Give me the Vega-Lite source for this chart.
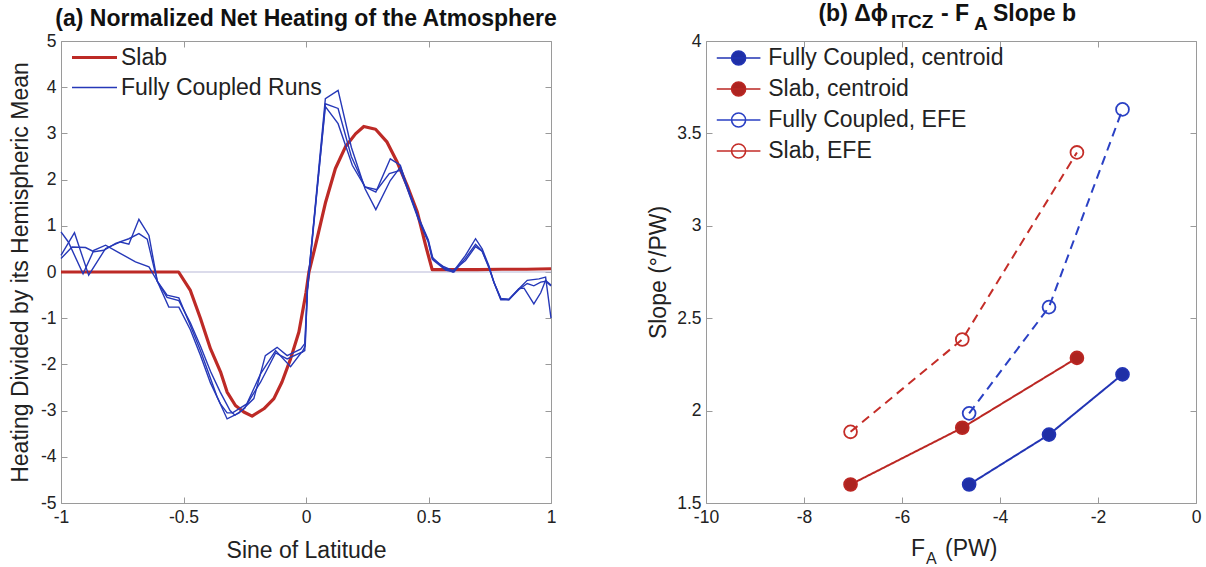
{
  "$schema": "https://vega.github.io/schema/vega-lite/v6.json",
  "background": "white",
  "padding": {"left": 9, "top": 3, "right": 4, "bottom": 4},
  "bounds": "flush",
  "spacing": 155,
  "resolve": {"scale": {"x": "independent", "y": "independent", "color": "independent", "fill": "independent", "stroke": "independent"}, "legend": {"color": "independent", "fill": "independent", "stroke": "independent"}},
  "config": {
    "font": "Liberation Sans",
    "view": {"stroke": null},
    "axis": {
      "labelFont": "Liberation Sans", "labelFontSize": 17.5, "labelColor": "#222", "labelFlush": false,
      "titleFont": "Liberation Sans", "titleFontSize": 23, "titleFontWeight": "normal", "titleColor": "#222",
      "domainColor": "#9a9a9a", "tickColor": "#9a9a9a", "tickSize": -6, "labelPadding": 11,
      "grid": false, "domainWidth": 1, "tickWidth": 1
    },
    "legend": {"labelFont": "Liberation Sans", "labelFontSize": 23, "labelColor": "#222", "labelLimit": 500}
  },
  "datasets": {
    "slab": [
      {"model": "Slab", "x": -1.0, "y": 0.0}, {"model": "Slab", "x": -0.9, "y": 0.0}, {"model": "Slab", "x": -0.8, "y": 0.0},
      {"model": "Slab", "x": -0.7, "y": 0.0}, {"model": "Slab", "x": -0.6, "y": 0.0}, {"model": "Slab", "x": -0.52, "y": 0.0},
      {"model": "Slab", "x": -0.472, "y": -0.4}, {"model": "Slab", "x": -0.431, "y": -1.0}, {"model": "Slab", "x": -0.39, "y": -1.66},
      {"model": "Slab", "x": -0.349, "y": -2.16}, {"model": "Slab", "x": -0.322, "y": -2.6}, {"model": "Slab", "x": -0.288, "y": -2.89},
      {"model": "Slab", "x": -0.254, "y": -3.03}, {"model": "Slab", "x": -0.22, "y": -3.12}, {"model": "Slab", "x": -0.172, "y": -2.96},
      {"model": "Slab", "x": -0.131, "y": -2.74}, {"model": "Slab", "x": -0.098, "y": -2.38}, {"model": "Slab", "x": -0.063, "y": -1.88},
      {"model": "Slab", "x": -0.029, "y": -1.3}, {"model": "Slab", "x": 0.0, "y": -0.45}, {"model": "Slab", "x": 0.012, "y": 0.0},
      {"model": "Slab", "x": 0.039, "y": 0.58}, {"model": "Slab", "x": 0.08, "y": 1.51}, {"model": "Slab", "x": 0.12, "y": 2.24},
      {"model": "Slab", "x": 0.161, "y": 2.71}, {"model": "Slab", "x": 0.202, "y": 2.99}, {"model": "Slab", "x": 0.236, "y": 3.15},
      {"model": "Slab", "x": 0.284, "y": 3.09}, {"model": "Slab", "x": 0.331, "y": 2.81}, {"model": "Slab", "x": 0.372, "y": 2.38},
      {"model": "Slab", "x": 0.413, "y": 1.87}, {"model": "Slab", "x": 0.454, "y": 1.3}, {"model": "Slab", "x": 0.488, "y": 0.58},
      {"model": "Slab", "x": 0.515, "y": 0.05}, {"model": "Slab", "x": 0.6, "y": 0.05}, {"model": "Slab", "x": 0.7, "y": 0.05},
      {"model": "Slab", "x": 0.8, "y": 0.06}, {"model": "Slab", "x": 0.9, "y": 0.06}, {"model": "Slab", "x": 1.0, "y": 0.07}
    ],
    "runs": [
      {"model": "Fully Coupled Runs", "run": 1, "x": -1.0, "y": 0.87}, {"model": "Fully Coupled Runs", "run": 1, "x": -0.97, "y": 0.65},
      {"model": "Fully Coupled Runs", "run": 1, "x": -0.91, "y": -0.04}, {"model": "Fully Coupled Runs", "run": 1, "x": -0.866, "y": 0.47},
      {"model": "Fully Coupled Runs", "run": 1, "x": -0.818, "y": 0.58}, {"model": "Fully Coupled Runs", "run": 1, "x": -0.764, "y": 0.42},
      {"model": "Fully Coupled Runs", "run": 1, "x": -0.696, "y": 0.22}, {"model": "Fully Coupled Runs", "run": 1, "x": -0.641, "y": 0.11},
      {"model": "Fully Coupled Runs", "run": 1, "x": -0.607, "y": -0.2}, {"model": "Fully Coupled Runs", "run": 1, "x": -0.567, "y": -0.5},
      {"model": "Fully Coupled Runs", "run": 1, "x": -0.519, "y": -0.56}, {"model": "Fully Coupled Runs", "run": 1, "x": -0.472, "y": -1.16},
      {"model": "Fully Coupled Runs", "run": 1, "x": -0.431, "y": -1.7}, {"model": "Fully Coupled Runs", "run": 1, "x": -0.39, "y": -2.3},
      {"model": "Fully Coupled Runs", "run": 1, "x": -0.363, "y": -2.7}, {"model": "Fully Coupled Runs", "run": 1, "x": -0.322, "y": -3.18},
      {"model": "Fully Coupled Runs", "run": 1, "x": -0.273, "y": -3.05}, {"model": "Fully Coupled Runs", "run": 1, "x": -0.213, "y": -2.74},
      {"model": "Fully Coupled Runs", "run": 1, "x": -0.166, "y": -1.81}, {"model": "Fully Coupled Runs", "run": 1, "x": -0.118, "y": -1.63},
      {"model": "Fully Coupled Runs", "run": 1, "x": -0.077, "y": -1.81}, {"model": "Fully Coupled Runs", "run": 1, "x": -0.022, "y": -1.67},
      {"model": "Fully Coupled Runs", "run": 1, "x": -0.005, "y": -1.55}, {"model": "Fully Coupled Runs", "run": 1, "x": 0.006, "y": -0.35},
      {"model": "Fully Coupled Runs", "run": 1, "x": 0.079, "y": 3.75}, {"model": "Fully Coupled Runs", "run": 1, "x": 0.131, "y": 3.93},
      {"model": "Fully Coupled Runs", "run": 1, "x": 0.185, "y": 2.7}, {"model": "Fully Coupled Runs", "run": 1, "x": 0.241, "y": 1.8},
      {"model": "Fully Coupled Runs", "run": 1, "x": 0.285, "y": 1.35}, {"model": "Fully Coupled Runs", "run": 1, "x": 0.344, "y": 1.98},
      {"model": "Fully Coupled Runs", "run": 1, "x": 0.385, "y": 2.27}, {"model": "Fully Coupled Runs", "run": 1, "x": 0.41, "y": 1.9},
      {"model": "Fully Coupled Runs", "run": 1, "x": 0.458, "y": 1.18}, {"model": "Fully Coupled Runs", "run": 1, "x": 0.499, "y": 0.67},
      {"model": "Fully Coupled Runs", "run": 1, "x": 0.515, "y": 0.32}, {"model": "Fully Coupled Runs", "run": 1, "x": 0.56, "y": 0.1},
      {"model": "Fully Coupled Runs", "run": 1, "x": 0.6, "y": 0.0}, {"model": "Fully Coupled Runs", "run": 1, "x": 0.651, "y": 0.36},
      {"model": "Fully Coupled Runs", "run": 1, "x": 0.692, "y": 0.72}, {"model": "Fully Coupled Runs", "run": 1, "x": 0.719, "y": 0.5},
      {"model": "Fully Coupled Runs", "run": 1, "x": 0.746, "y": 0.14}, {"model": "Fully Coupled Runs", "run": 1, "x": 0.767, "y": -0.22},
      {"model": "Fully Coupled Runs", "run": 1, "x": 0.795, "y": -0.58}, {"model": "Fully Coupled Runs", "run": 1, "x": 0.828, "y": -0.59},
      {"model": "Fully Coupled Runs", "run": 1, "x": 0.869, "y": -0.36}, {"model": "Fully Coupled Runs", "run": 1, "x": 0.903, "y": -0.18},
      {"model": "Fully Coupled Runs", "run": 1, "x": 0.951, "y": -0.15}, {"model": "Fully Coupled Runs", "run": 1, "x": 0.978, "y": -0.11},
      {"model": "Fully Coupled Runs", "run": 1, "x": 1.0, "y": -1.0},

      {"model": "Fully Coupled Runs", "run": 2, "x": -1.0, "y": 0.36}, {"model": "Fully Coupled Runs", "run": 2, "x": -0.945, "y": 0.85},
      {"model": "Fully Coupled Runs", "run": 2, "x": -0.887, "y": -0.07}, {"model": "Fully Coupled Runs", "run": 2, "x": -0.818, "y": 0.51},
      {"model": "Fully Coupled Runs", "run": 2, "x": -0.757, "y": 0.65}, {"model": "Fully Coupled Runs", "run": 2, "x": -0.723, "y": 0.6},
      {"model": "Fully Coupled Runs", "run": 2, "x": -0.682, "y": 1.14}, {"model": "Fully Coupled Runs", "run": 2, "x": -0.641, "y": 0.79},
      {"model": "Fully Coupled Runs", "run": 2, "x": -0.607, "y": -0.2}, {"model": "Fully Coupled Runs", "run": 2, "x": -0.567, "y": -0.55},
      {"model": "Fully Coupled Runs", "run": 2, "x": -0.519, "y": -0.62}, {"model": "Fully Coupled Runs", "run": 2, "x": -0.472, "y": -1.1},
      {"model": "Fully Coupled Runs", "run": 2, "x": -0.431, "y": -1.6}, {"model": "Fully Coupled Runs", "run": 2, "x": -0.39, "y": -2.15},
      {"model": "Fully Coupled Runs", "run": 2, "x": -0.35, "y": -2.6}, {"model": "Fully Coupled Runs", "run": 2, "x": -0.31, "y": -3.0},
      {"model": "Fully Coupled Runs", "run": 2, "x": -0.29, "y": -3.1}, {"model": "Fully Coupled Runs", "run": 2, "x": -0.25, "y": -2.95},
      {"model": "Fully Coupled Runs", "run": 2, "x": -0.185, "y": -2.2}, {"model": "Fully Coupled Runs", "run": 2, "x": -0.124, "y": -1.7},
      {"model": "Fully Coupled Runs", "run": 2, "x": -0.063, "y": -2.05}, {"model": "Fully Coupled Runs", "run": 2, "x": -0.02, "y": -1.75},
      {"model": "Fully Coupled Runs", "run": 2, "x": -0.005, "y": -1.7}, {"model": "Fully Coupled Runs", "run": 2, "x": 0.006, "y": -0.4},
      {"model": "Fully Coupled Runs", "run": 2, "x": 0.079, "y": 3.64}, {"model": "Fully Coupled Runs", "run": 2, "x": 0.131, "y": 3.54},
      {"model": "Fully Coupled Runs", "run": 2, "x": 0.185, "y": 2.5}, {"model": "Fully Coupled Runs", "run": 2, "x": 0.241, "y": 1.84},
      {"model": "Fully Coupled Runs", "run": 2, "x": 0.285, "y": 1.73}, {"model": "Fully Coupled Runs", "run": 2, "x": 0.344, "y": 2.45},
      {"model": "Fully Coupled Runs", "run": 2, "x": 0.385, "y": 2.31}, {"model": "Fully Coupled Runs", "run": 2, "x": 0.41, "y": 1.9},
      {"model": "Fully Coupled Runs", "run": 2, "x": 0.458, "y": 1.2}, {"model": "Fully Coupled Runs", "run": 2, "x": 0.499, "y": 0.7},
      {"model": "Fully Coupled Runs", "run": 2, "x": 0.52, "y": 0.25}, {"model": "Fully Coupled Runs", "run": 2, "x": 0.57, "y": 0.04},
      {"model": "Fully Coupled Runs", "run": 2, "x": 0.604, "y": 0.0}, {"model": "Fully Coupled Runs", "run": 2, "x": 0.651, "y": 0.3},
      {"model": "Fully Coupled Runs", "run": 2, "x": 0.692, "y": 0.6}, {"model": "Fully Coupled Runs", "run": 2, "x": 0.719, "y": 0.45},
      {"model": "Fully Coupled Runs", "run": 2, "x": 0.746, "y": 0.1}, {"model": "Fully Coupled Runs", "run": 2, "x": 0.767, "y": -0.22},
      {"model": "Fully Coupled Runs", "run": 2, "x": 0.795, "y": -0.57}, {"model": "Fully Coupled Runs", "run": 2, "x": 0.828, "y": -0.6},
      {"model": "Fully Coupled Runs", "run": 2, "x": 0.869, "y": -0.38}, {"model": "Fully Coupled Runs", "run": 2, "x": 0.903, "y": -0.25},
      {"model": "Fully Coupled Runs", "run": 2, "x": 0.93, "y": -0.3}, {"model": "Fully Coupled Runs", "run": 2, "x": 0.958, "y": -0.22},
      {"model": "Fully Coupled Runs", "run": 2, "x": 0.978, "y": -0.2}, {"model": "Fully Coupled Runs", "run": 2, "x": 1.0, "y": -0.3},

      {"model": "Fully Coupled Runs", "run": 3, "x": -1.0, "y": 0.29}, {"model": "Fully Coupled Runs", "run": 3, "x": -0.955, "y": 0.54},
      {"model": "Fully Coupled Runs", "run": 3, "x": -0.9, "y": 0.53}, {"model": "Fully Coupled Runs", "run": 3, "x": -0.866, "y": 0.44},
      {"model": "Fully Coupled Runs", "run": 3, "x": -0.825, "y": 0.47}, {"model": "Fully Coupled Runs", "run": 3, "x": -0.777, "y": 0.62},
      {"model": "Fully Coupled Runs", "run": 3, "x": -0.723, "y": 0.72}, {"model": "Fully Coupled Runs", "run": 3, "x": -0.682, "y": 0.83},
      {"model": "Fully Coupled Runs", "run": 3, "x": -0.648, "y": 0.71}, {"model": "Fully Coupled Runs", "run": 3, "x": -0.607, "y": -0.2},
      {"model": "Fully Coupled Runs", "run": 3, "x": -0.56, "y": -0.76}, {"model": "Fully Coupled Runs", "run": 3, "x": -0.519, "y": -0.76},
      {"model": "Fully Coupled Runs", "run": 3, "x": -0.472, "y": -1.25}, {"model": "Fully Coupled Runs", "run": 3, "x": -0.431, "y": -1.8},
      {"model": "Fully Coupled Runs", "run": 3, "x": -0.39, "y": -2.4}, {"model": "Fully Coupled Runs", "run": 3, "x": -0.35, "y": -2.85},
      {"model": "Fully Coupled Runs", "run": 3, "x": -0.322, "y": -3.05}, {"model": "Fully Coupled Runs", "run": 3, "x": -0.3, "y": -3.05},
      {"model": "Fully Coupled Runs", "run": 3, "x": -0.24, "y": -2.85}, {"model": "Fully Coupled Runs", "run": 3, "x": -0.185, "y": -2.38},
      {"model": "Fully Coupled Runs", "run": 3, "x": -0.124, "y": -1.75}, {"model": "Fully Coupled Runs", "run": 3, "x": -0.077, "y": -1.88},
      {"model": "Fully Coupled Runs", "run": 3, "x": -0.015, "y": -1.73}, {"model": "Fully Coupled Runs", "run": 3, "x": -0.003, "y": -1.6},
      {"model": "Fully Coupled Runs", "run": 3, "x": 0.006, "y": -0.3}, {"model": "Fully Coupled Runs", "run": 3, "x": 0.079, "y": 3.58},
      {"model": "Fully Coupled Runs", "run": 3, "x": 0.131, "y": 3.21}, {"model": "Fully Coupled Runs", "run": 3, "x": 0.189, "y": 2.31},
      {"model": "Fully Coupled Runs", "run": 3, "x": 0.241, "y": 1.84}, {"model": "Fully Coupled Runs", "run": 3, "x": 0.29, "y": 1.78},
      {"model": "Fully Coupled Runs", "run": 3, "x": 0.34, "y": 2.13}, {"model": "Fully Coupled Runs", "run": 3, "x": 0.385, "y": 2.2},
      {"model": "Fully Coupled Runs", "run": 3, "x": 0.41, "y": 1.85}, {"model": "Fully Coupled Runs", "run": 3, "x": 0.458, "y": 1.15},
      {"model": "Fully Coupled Runs", "run": 3, "x": 0.499, "y": 0.65}, {"model": "Fully Coupled Runs", "run": 3, "x": 0.515, "y": 0.28},
      {"model": "Fully Coupled Runs", "run": 3, "x": 0.56, "y": 0.12}, {"model": "Fully Coupled Runs", "run": 3, "x": 0.6, "y": 0.03},
      {"model": "Fully Coupled Runs", "run": 3, "x": 0.651, "y": 0.25}, {"model": "Fully Coupled Runs", "run": 3, "x": 0.692, "y": 0.55},
      {"model": "Fully Coupled Runs", "run": 3, "x": 0.719, "y": 0.45}, {"model": "Fully Coupled Runs", "run": 3, "x": 0.746, "y": 0.12},
      {"model": "Fully Coupled Runs", "run": 3, "x": 0.767, "y": -0.22}, {"model": "Fully Coupled Runs", "run": 3, "x": 0.795, "y": -0.6},
      {"model": "Fully Coupled Runs", "run": 3, "x": 0.828, "y": -0.6}, {"model": "Fully Coupled Runs", "run": 3, "x": 0.869, "y": -0.36},
      {"model": "Fully Coupled Runs", "run": 3, "x": 0.89, "y": -0.35}, {"model": "Fully Coupled Runs", "run": 3, "x": 0.93, "y": -0.69},
      {"model": "Fully Coupled Runs", "run": 3, "x": 0.958, "y": -0.45}, {"model": "Fully Coupled Runs", "run": 3, "x": 0.978, "y": -0.18},
      {"model": "Fully Coupled Runs", "run": 3, "x": 1.0, "y": -0.28}
    ],
    "slopes": [
      {"series": "Fully Coupled, centroid", "fa": -4.63, "slope": 1.6},
      {"series": "Fully Coupled, centroid", "fa": -3.0, "slope": 1.87},
      {"series": "Fully Coupled, centroid", "fa": -1.5, "slope": 2.196},
      {"series": "Slab, centroid", "fa": -7.05, "slope": 1.6},
      {"series": "Slab, centroid", "fa": -4.77, "slope": 1.907},
      {"series": "Slab, centroid", "fa": -2.43, "slope": 2.285},
      {"series": "Fully Coupled, EFE", "fa": -4.63, "slope": 1.985},
      {"series": "Fully Coupled, EFE", "fa": -3.0, "slope": 2.56},
      {"series": "Fully Coupled, EFE", "fa": -1.5, "slope": 3.63},
      {"series": "Slab, EFE", "fa": -7.05, "slope": 1.885},
      {"series": "Slab, EFE", "fa": -4.77, "slope": 2.385},
      {"series": "Slab, EFE", "fa": -2.43, "slope": 3.397}
    ]
  },
  "hconcat": [
    {
      "width": 490,
      "height": 462,
      "title": {"text": "(a) Normalized Net Heating of the Atmosphere", "font": "Liberation Sans", "fontSize": 23, "fontWeight": "bold", "color": "#111", "anchor": "middle", "baseline": "alphabetic", "offset": -17},
      "resolve": {"axis": {"x": "independent", "y": "independent"}},
      "layer": [
        {
          "data": {"values": [{"level": 0}]},
          "mark": {"type": "rule", "color": "#b8b8d8", "strokeWidth": 1.2},
          "encoding": {
            "y": {"field": "level", "type": "quantitative", "scale": {"domain": [-5, 5], "nice": false, "zero": false}, "axis": null}
          }
        },
        {
          "data": {"name": "slab"},
          "mark": {"type": "line", "strokeWidth": 3.2, "strokeJoin": "round"},
          "encoding": {
            "x": {"field": "x", "type": "quantitative", "scale": {"domain": [-1, 1], "nice": false, "zero": false},
                  "axis": {"orient": "top", "labels": false, "title": null, "values": [-1, -0.5, 0, 0.5, 1]}},
            "y": {"field": "y", "type": "quantitative", "scale": {"domain": [-5, 5], "nice": false, "zero": false},
                  "axis": {"orient": "right", "labels": false, "title": null, "values": [-5, -4, -3, -2, -1, 0, 1, 2, 3, 4, 5]}},
            "color": {"field": "model", "type": "nominal",
                      "scale": {"domain": ["Slab", "Fully Coupled Runs"], "range": ["#bd2a26", "#2638b8"]},
                      "legend": {"orient": "none", "legendX": 22, "legendY": 5, "title": null, "symbolType": "stroke", "symbolSize": 2025, "rowPadding": 6, "labelOffset": 15, "labelFontSize": 23,
                                 "encode": {"symbols": {"update": {"strokeWidth": {"signal": "datum.value === 'Slab' ? 3 : 1.3"}}}}}}
          }
        },
        {
          "data": {"name": "runs"},
          "mark": {"type": "line", "strokeWidth": 1.4},
          "encoding": {
            "x": {"field": "x", "type": "quantitative", "scale": {"domain": [-1, 1], "nice": false, "zero": false},
                  "axis": {"orient": "bottom", "title": "Sine of Latitude", "values": [-1, -0.5, 0, 0.5, 1], "format": "~g", "labelExpr": "replace(datum.label, '\u2212', '-')", "titlePadding": 14}},
            "y": {"field": "y", "type": "quantitative", "scale": {"domain": [-5, 5], "nice": false, "zero": false},
                  "axis": {"orient": "left", "title": "Heating Divided by its Hemispheric Mean", "values": [-5, -4, -3, -2, -1, 0, 1, 2, 3, 4, 5], "format": "~g", "labelExpr": "replace(datum.label, '\u2212', '-')", "titlePadding": 8}},
            "color": {"field": "model", "type": "nominal",
                      "scale": {"domain": ["Slab", "Fully Coupled Runs"], "range": ["#bd2a26", "#2638b8"]},
                      "legend": {"orient": "none", "legendX": 22, "legendY": 5, "title": null, "symbolType": "stroke", "symbolSize": 2025, "rowPadding": 6, "labelOffset": 15, "labelFontSize": 23,
                                 "encode": {"symbols": {"update": {"strokeWidth": {"signal": "datum.value === 'Slab' ? 3 : 1.3"}}}}}},
            "detail": {"field": "run", "type": "nominal"}
          }
        }
      ]
    },
    {
      "width": 490,
      "height": 462,
      "resolve": {"axis": {"x": "independent", "y": "independent"}},
      "layer": [
        {
          "data": {"name": "slopes"},
          "mark": {"type": "line", "strokeWidth": 2},
          "encoding": {
            "x": {"field": "fa", "type": "quantitative", "scale": {"domain": [-10, 0], "nice": false, "zero": false},
                  "axis": {"orient": "bottom", "title": null, "values": [-10, -8, -6, -4, -2, 0], "labelExpr": "replace(datum.label, '\u2212', '-')"}},
            "y": {"field": "slope", "type": "quantitative", "scale": {"domain": [1.5, 4], "nice": false, "zero": false},
                  "axis": {"orient": "left", "title": "Slope (°/PW)", "values": [1.5, 2, 2.5, 3, 3.5, 4], "format": "~g", "titlePadding": 6}},
            "stroke": {"field": "series", "type": "nominal",
                       "scale": {"domain": ["Fully Coupled, centroid", "Slab, centroid", "Fully Coupled, EFE", "Slab, EFE"], "range": ["#2234b4", "#bb2723", "#2a40c4", "#c42d28"]},
                       "legend": {"orient": "none", "legendX": 13.6, "legendY": -2, "title": null,
                                  "symbolType": "M-1.2,0L1.2,0M0.385,0A0.385,0.385,0,1,1,-0.385,0A0.385,0.385,0,1,1,0.385,0",
                                  "symbolSize": 1323, "rowPadding": 0, "labelOffset": 10.6, "labelFontSize": 23, "symbolStrokeWidth": 1.6, "symbolDash": [], "symbolOpacity": 1}},
            "strokeDash": {"field": "series", "type": "nominal",
                           "scale": {"domain": ["Fully Coupled, centroid", "Slab, centroid", "Fully Coupled, EFE", "Slab, EFE"], "range": [[1, 0], [1, 0], [9, 6], [9, 6]]},
                           "legend": null}
          }
        },
        {
          "data": {"name": "slopes"},
          "mark": {"type": "point", "shape": "circle", "strokeWidth": 1.8, "opacity": 1, "fillOpacity": 1},
          "encoding": {
            "x": {"field": "fa", "type": "quantitative", "scale": {"domain": [-10, 0], "nice": false, "zero": false},
                  "axis": {"orient": "top", "labels": false, "title": null, "values": [-10, -8, -6, -4, -2, 0]}},
            "y": {"field": "slope", "type": "quantitative", "scale": {"domain": [1.5, 4], "nice": false, "zero": false},
                  "axis": {"orient": "right", "labels": false, "title": null, "values": [1.5, 2, 2.5, 3, 3.5, 4]}},
            "stroke": {"field": "series", "type": "nominal",
                       "scale": {"domain": ["Fully Coupled, centroid", "Slab, centroid", "Fully Coupled, EFE", "Slab, EFE"], "range": ["#2234b4", "#bb2723", "#2a40c4", "#c42d28"]},
                       "legend": {"orient": "none", "legendX": 13.6, "legendY": -2, "title": null,
                                  "symbolType": "M-1.2,0L1.2,0M0.385,0A0.385,0.385,0,1,1,-0.385,0A0.385,0.385,0,1,1,0.385,0",
                                  "symbolSize": 1323, "rowPadding": 0, "labelOffset": 10.6, "labelFontSize": 23, "symbolStrokeWidth": 1.6, "symbolDash": [], "symbolOpacity": 1}},
            "fill": {"field": "series", "type": "nominal",
                     "scale": {"domain": ["Fully Coupled, centroid", "Slab, centroid", "Fully Coupled, EFE", "Slab, EFE"], "range": ["#1f2fa6", "#ad2420", "transparent", "transparent"]},
                     "legend": {"orient": "none", "legendX": 13.6, "legendY": -2, "title": null,
                                "symbolType": "M-1.2,0L1.2,0M0.385,0A0.385,0.385,0,1,1,-0.385,0A0.385,0.385,0,1,1,0.385,0",
                                "symbolSize": 1323, "rowPadding": 0, "labelOffset": 10.6, "labelFontSize": 23, "symbolStrokeWidth": 1.6, "symbolDash": [], "symbolOpacity": 1}},
            "size": {"field": "series", "type": "nominal",
                     "scale": {"domain": ["Fully Coupled, centroid", "Slab, centroid", "Fully Coupled, EFE", "Slab, EFE"], "range": [165, 165, 140, 140]},
                     "legend": null}
          }
        },
        {
          "data": {"values": [{}]},
          "mark": {"type": "text", "align": "right", "baseline": "alphabetic", "font": "Liberation Sans", "fontSize": 23, "fontWeight": "bold", "color": "#111"},
          "encoding": {"x": {"datum": -6.286, "axis": null}, "y": {"datum": 4.108, "axis": null}, "text": {"value": "(b) Δϕ"}}
        },
        {
          "data": {"values": [{}]},
          "mark": {"type": "text", "align": "left", "baseline": "alphabetic", "font": "Liberation Sans", "fontSize": 19, "fontWeight": "bold", "color": "#111"},
          "encoding": {"x": {"datum": -6.224, "axis": null}, "y": {"datum": 4.068, "axis": null}, "text": {"value": "ITCZ"}}
        },
        {
          "data": {"values": [{}]},
          "mark": {"type": "text", "align": "left", "baseline": "alphabetic", "font": "Liberation Sans", "fontSize": 23, "fontWeight": "bold", "color": "#111"},
          "encoding": {"x": {"datum": -5.204, "axis": null}, "y": {"datum": 4.108, "axis": null}, "text": {"value": "- F"}}
        },
        {
          "data": {"values": [{}]},
          "mark": {"type": "text", "align": "left", "baseline": "alphabetic", "font": "Liberation Sans", "fontSize": 19, "fontWeight": "bold", "color": "#111"},
          "encoding": {"x": {"datum": -4.531, "axis": null}, "y": {"datum": 4.062, "axis": null}, "text": {"value": "A"}}
        },
        {
          "data": {"values": [{}]},
          "mark": {"type": "text", "align": "left", "baseline": "alphabetic", "font": "Liberation Sans", "fontSize": 23, "fontWeight": "bold", "color": "#111"},
          "encoding": {"x": {"datum": -4.143, "axis": null}, "y": {"datum": 4.108, "axis": null}, "text": {"value": "Slope b"}}
        },
        {
          "data": {"values": [{}]},
          "mark": {"type": "text", "align": "left", "baseline": "alphabetic", "font": "Liberation Sans", "fontSize": 23, "color": "#222"},
          "encoding": {"x": {"datum": -5.816, "axis": null}, "y": {"datum": 1.213, "axis": null}, "text": {"value": "F"}}
        },
        {
          "data": {"values": [{}]},
          "mark": {"type": "text", "align": "left", "baseline": "alphabetic", "font": "Liberation Sans", "fontSize": 16, "color": "#222"},
          "encoding": {"x": {"datum": -5.51, "axis": null}, "y": {"datum": 1.17, "axis": null}, "text": {"value": "A"}}
        },
        {
          "data": {"values": [{}]},
          "mark": {"type": "text", "align": "left", "baseline": "alphabetic", "font": "Liberation Sans", "fontSize": 23, "color": "#222"},
          "encoding": {"x": {"datum": -5.122, "axis": null}, "y": {"datum": 1.213, "axis": null}, "text": {"value": "(PW)"}}
        }
      ]
    }
  ]
}
